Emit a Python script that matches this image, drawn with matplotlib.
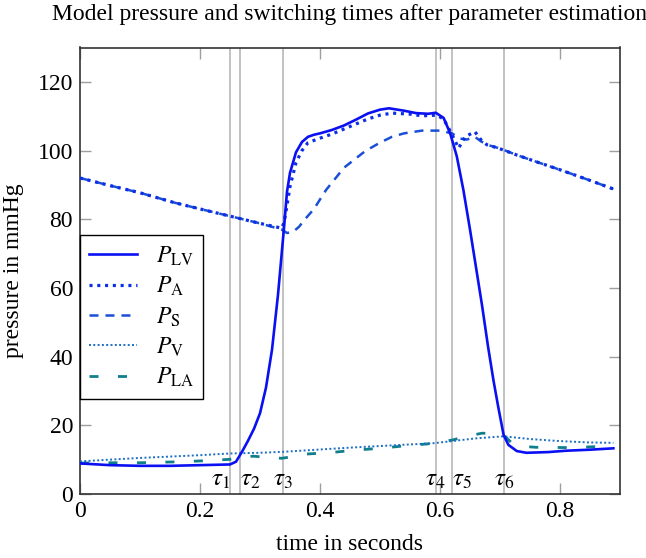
"""Model pressure curves with switching times after parameter estimation."""
import matplotlib
matplotlib.use('Agg')
import matplotlib.pyplot as plt

# --- data --------------------------------------------------------------
t_lv = [0.0, 0.05, 0.10, 0.15, 0.20, 0.25, 0.26, 0.27, 0.28, 0.29, 0.30, 0.31,
        0.32, 0.33, 0.34, 0.345, 0.35, 0.36, 0.37, 0.38, 0.39, 0.40, 0.42, 0.44,
        0.46, 0.48, 0.50, 0.515, 0.54, 0.56, 0.58, 0.593, 0.606, 0.617, 0.628,
        0.639, 0.65, 0.66, 0.67, 0.68, 0.689, 0.697, 0.706, 0.714, 0.728, 0.744,
        0.78, 0.81, 0.85, 0.889]
p_lv = [8.9, 8.4, 8.2, 8.2, 8.4, 8.6, 9.4, 12.3, 15.5, 19.0, 23.5, 31.0,
        42.0, 58.0, 77.5, 88.0, 93.5, 99.5, 102.5, 104.0, 104.6, 105.0, 106.0, 107.3,
        109.0, 110.8, 111.9, 112.3, 111.6, 110.9, 110.7, 111.0, 109.5, 105.0, 98.3,
        88.5, 77.0, 66.0, 55.0, 43.0, 33.2, 25.4, 17.2, 14.3, 12.5, 12.0,
        12.2, 12.6, 12.9, 13.3]

t_a = [0.0, 0.05, 0.10, 0.158, 0.20, 0.25, 0.30, 0.336, 0.34, 0.345, 0.35, 0.36,
       0.37, 0.38, 0.40, 0.42, 0.45, 0.48, 0.50, 0.52, 0.55, 0.57, 0.594, 0.606,
       0.619, 0.631, 0.642, 0.658, 0.669, 0.678, 0.697, 0.728, 0.756, 0.80, 0.85,
       0.889]
p_a = [92.0, 89.8, 87.7, 84.8, 83.0, 80.9, 78.8, 77.4, 79.0, 84.0, 89.5, 96.5,
       100.0, 102.3, 103.6, 104.8, 107.0, 109.2, 110.3, 110.9, 110.6, 110.1, 110.3, 109.2,
       105.0, 100.7, 104.0, 105.5, 103.0, 101.7, 100.7, 98.7, 97.0, 94.4, 91.3,
       88.8]

t_s = [0.0, 0.05, 0.10, 0.158, 0.20, 0.25, 0.30, 0.336, 0.345, 0.355, 0.365,
       0.375, 0.39, 0.41, 0.44, 0.475, 0.50, 0.52, 0.54, 0.57, 0.60, 0.62, 0.633,
       0.645, 0.658, 0.669, 0.68, 0.70, 0.728, 0.756, 0.80, 0.85, 0.889]
p_s = [92.0, 89.8, 87.7, 84.8, 83.0, 80.9, 78.8, 77.0, 76.0, 76.3, 77.8,
       80.0, 83.0, 88.5, 95.0, 99.8, 102.3, 104.0, 105.0, 105.8, 105.8, 105.0, 103.5,
       103.2, 104.0, 102.6, 101.6, 100.6, 98.7, 97.0, 94.4, 91.3, 88.8]

t_v = [0.0, 0.10, 0.20, 0.25, 0.30, 0.34, 0.45, 0.59, 0.62, 0.66, 0.706, 0.75,
       0.80, 0.85, 0.889]
p_v = [9.5, 10.5, 11.3, 11.8, 12.0, 12.3, 13.5, 14.8, 15.4, 16.2, 16.8, 16.0,
       15.4, 15.0, 14.9]

t_la = [0.0, 0.05, 0.10, 0.17, 0.21, 0.25, 0.27, 0.29, 0.31, 0.336, 0.36, 0.375,
        0.42, 0.46, 0.50, 0.54, 0.58, 0.62, 0.65, 0.67, 0.70, 0.71, 0.72, 0.735,
        0.76, 0.82, 0.86, 0.889]
p_la = [9.0, 9.1, 9.1, 9.4, 9.7, 10.1, 10.8, 11.0, 10.7, 10.4, 11.0, 11.6,
        12.1, 12.8, 13.3, 14.0, 14.6, 15.7, 17.0, 17.7, 17.6, 16.5, 14.8, 13.9,
        13.6, 13.5, 13.8, 13.9]

switch_times = [0.25, 0.267, 0.339, 0.593, 0.62, 0.707]
switch_labels = [r'$\tau_1$', r'$\tau_2$', r'$\tau_3$',
                 r'$\tau_4$', r'$\tau_5$', r'$\tau_6$']
switch_ha = ['right', 'left', 'center', 'center', 'left', 'center']

plt.rcParams['font.family'] = ['Liberation Serif', 'DejaVu Serif']
plt.rcParams['mathtext.fontset'] = 'stix'
plt.rcParams['lines.scale_dashes'] = False

fig = plt.figure(figsize=(6.46, 5.58), dpi=100)
ax = fig.add_axes([80 / 646, 64 / 558, 540 / 646, 446.5 / 558])

for tau in switch_times:
    ax.axvline(tau, color='#bdbdbd', lw=1.3, zorder=1)

ax.plot(t_lv, p_lv, color='#0a10f2', lw=1.9, label=r'$P_{\mathrm{LV}}$', zorder=5)
ax.plot(t_a, p_a, color='#0c2ee6', lw=2.3, dashes=(2.2, 3.4),
        dash_capstyle='butt', label=r'$P_{\mathrm{A}}$', zorder=4)
ax.plot(t_s, p_s, color='#1a4fd6', lw=1.8, dashes=(6.5, 5.0),
        label=r'$P_{\mathrm{S}}$', zorder=3)
ax.plot(t_v, p_v, color='#1a6fc4', lw=1.4, dashes=(1.4, 1.7),
        dash_capstyle='butt', label=r'$P_{\mathrm{V}}$', zorder=3)
ax.plot(t_la, p_la, color='#0f7f8c', lw=2.0, dashes=(6.5, 14.0),
        label=r'$P_{\mathrm{LA}}$', zorder=2)

for tau, lab, ha in zip(switch_times, switch_labels, switch_ha):
    ax.text(tau, 1.0, lab, ha=ha, va='bottom', fontsize=18)

ax.set_xlim(0, 0.9)
ax.set_ylim(0, 130)
ax.set_xticks([0, 0.2, 0.4, 0.6, 0.8])
ax.set_xticklabels(['0', '0.2', '0.4', '0.6', '0.8'])
ax.set_yticks([0, 20, 40, 60, 80, 100, 120])

ax.tick_params(direction='in', top=True, right=True, length=8, width=1,
               color='#9e9e9e', labelsize=17, pad=5)
for sp in ax.spines.values():
    sp.set_color('#333333')
    sp.set_linewidth(1.2)

ax.set_xlabel('time in seconds', fontsize=17, labelpad=9)
ax.set_ylabel('pressure in mmHg', fontsize=17, labelpad=10)
ax.set_title('Model pressure and switching times after parameter estimation',
             fontsize=17, pad=20)

leg = ax.legend(loc='upper left', bbox_to_anchor=(0.0, 0.58), borderaxespad=0,
                fontsize=17, handlelength=2.0, handletextpad=0.8,
                labelspacing=0.3, borderpad=0.4, fancybox=False,
                edgecolor='black', framealpha=1)
leg.get_frame().set_linewidth(1.0)

fig.savefig('out.png', dpi=100)
